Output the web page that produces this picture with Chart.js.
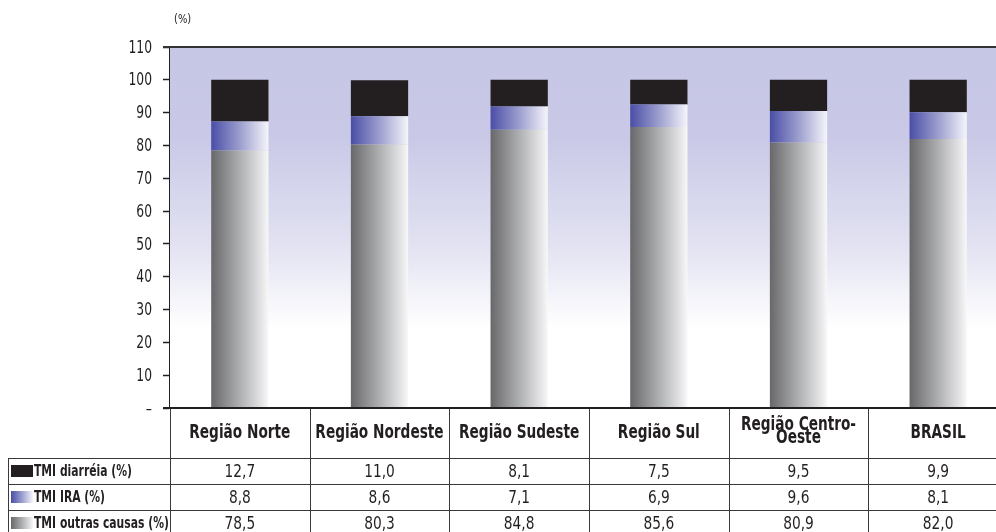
<!DOCTYPE html>
<html>
<head>
<meta charset="utf-8">
<script src="https://cdn.jsdelivr.net/npm/chart.js@4.4.1/dist/chart.umd.min.js"></script>
<style>
	html, body { margin: 0; padding: 0; background: #fff; overflow: hidden; }
	#wrap { width: 1008px; height: 532px; }
</style>
</head>
<body>
<div id="wrap"><canvas id="myChart" width="1008" height="532"></canvas></div>
<script>
// data
const labels = ["Região Norte", "Região Nordeste", "Região Sudeste", "Região Sul", ["Região Centro-", "Oeste"], "BRASIL"]
const diarreia = [12.7, 11.0, 8.1, 7.5, 9.5, 9.9]
const ira = [8.8, 8.6, 7.1, 6.9, 9.6, 8.1]
const outras = [78.5, 80.3, 84.8, 85.6, 80.9, 82.0]
const seriesNames = ["TMI diarréia (%)", "TMI IRA (%)", "TMI outras causas (%)"]
const yMax = 110
const yStep = 10
const unitLabel = "(%)"

const FONT = "'DejaVu Sans Condensed', 'Liberation Sans Narrow', sans-serif"
const INK = "#231f20"
const BAR_PCT = 0.41

const blueStops = [[0, "#4a4ea6"], [0.5, "#9c9ece"], [1, "#f5f5fb"]]
const grayStops = [[0, "#68686b"], [0.55, "#b5b6b8"], [0.9, "#e8e8ea"], [1, "#f8f8f8"]]

function makeGrad(c, x0, x1, stops) {
	const g = c.createLinearGradient(x0, 0, x1, 0)
	stops.forEach(s => g.addColorStop(s[0], s[1]))
	return g
}

function barFill(stops) {
	return ctx => {
		const chart = ctx.chart
		const x = chart.scales.x
		if (!chart.chartArea || !x || ctx.dataIndex === undefined) return stops[0][1]
		const cx = x.getPixelForValue(ctx.dataIndex)
		const half = (x.width / labels.length) * BAR_PCT / 2
		return makeGrad(chart.ctx, cx - half, cx + half, stops)
	}
}

const fmt = v => v.toFixed(1).replace(".", ",")

// narrow text: squeeze horizontally to imitate a condensed face
function narrowText(c, text, x, y, sx) {
	c.save()
	c.translate(x, y)
	c.scale(sx, 1)
	c.fillText(text, 0, 0)
	c.restore()
}

// plot background + table
const decor = {
	id: "decor",
	beforeDatasetsDraw(chart) {
		const { ctx, chartArea: a } = chart
		const g = ctx.createLinearGradient(0, a.top, 0, a.bottom)
		g.addColorStop(0, "#c6c6e5")
		g.addColorStop(0.25, "#c9c9e7")
		g.addColorStop(0.55, "#e2e2f2")
		g.addColorStop(0.78, "#ffffff")
		g.addColorStop(1, "#ffffff")
		ctx.save()
		ctx.fillStyle = g
		ctx.fillRect(a.left, a.top, a.right - a.left, a.bottom - a.top)
		ctx.restore()
	},
	afterDraw(chart) {
		const { ctx, chartArea: a } = chart
		const x = chart.scales.x
		const y = chart.scales.y
		const n = labels.length
		const colW = (x.right - x.left) / n
		const W = chart.width
		const top = a.bottom
		const headH = 50
		const rowH = 26
		ctx.save()

		// top frame line
		ctx.strokeStyle = "#333"
		ctx.lineWidth = 2
		ctx.beginPath()
		ctx.moveTo(a.left - 7, a.top)
		ctx.lineTo(W, a.top)
		ctx.stroke()

		// y tick labels
		ctx.fillStyle = INK
		ctx.textAlign = "right"
		ctx.textBaseline = "middle"
		ctx.font = "18px " + FONT
		y.ticks.forEach(t => {
			const txt = t.value === 0 ? "–" : String(t.value)
			narrowText(ctx, txt, 152, y.getPixelForValue(t.value) + 1, 0.76)
		})

		// table lines
		ctx.strokeStyle = "#3a3a3a"
		ctx.lineWidth = 1
		for (let i = 0; i <= n; i++) {
			const xx = Math.round(x.left + i * colW) + 0.5
			ctx.beginPath()
			ctx.moveTo(xx, top)
			ctx.lineTo(xx, chart.height)
			ctx.stroke()
		}
		for (let r = 0; r < 3; r++) {
			const yy = top + headH + r * rowH + 0.5
			ctx.beginPath()
			ctx.moveTo(8, yy)
			ctx.lineTo(W, yy)
			ctx.stroke()
		}
		ctx.beginPath()
		ctx.moveTo(8.5, top + headH)
		ctx.lineTo(8.5, chart.height)
		ctx.stroke()

		// axis bottom line
		ctx.strokeStyle = INK
		ctx.lineWidth = 2
		ctx.beginPath()
		ctx.moveTo(a.left - 7, top)
		ctx.lineTo(W, top)
		ctx.stroke()

		// header
		ctx.fillStyle = INK
		ctx.textAlign = "center"
		ctx.textBaseline = "middle"
		ctx.font = "bold 19px " + FONT
		labels.forEach((lab, i) => {
			const cx = x.left + (i + 0.5) * colW
			const cy = top + headH / 2
			if (Array.isArray(lab)) {
				narrowText(ctx, lab[0], cx, cy - 8, 0.8)
				narrowText(ctx, lab[1], cx, cy + 5, 0.8)
			} else {
				narrowText(ctx, lab, cx, cy, 0.8)
			}
		})

		// rows
		const rows = [diarreia, ira, outras]
		const swatch = [INK, blueStops, grayStops]
		rows.forEach((vals, r) => {
			const cy = top + headH + r * rowH + rowH / 2
			const s = swatch[r]
			ctx.fillStyle = typeof s === "string" ? s : makeGrad(ctx, 11, 33, s)
			ctx.fillRect(11, Math.round(cy - 6), 22, 12)
			ctx.fillStyle = INK
			ctx.textAlign = "left"
			ctx.font = "bold 15px " + FONT
			narrowText(ctx, seriesNames[r], 34, cy + 1, 0.8)
			ctx.textAlign = "center"
			ctx.font = "18px " + FONT
			vals.forEach((v, i) => {
				narrowText(ctx, fmt(v), x.left + (i + 0.5) * colW, cy + 1, 0.85)
			})
		})

		// unit label
		ctx.textAlign = "left"
		ctx.font = "13px " + FONT
		narrowText(ctx, unitLabel, a.left + 4, 20, 0.85)
		ctx.restore()
	},
}

const chart = document.querySelector("#myChart").getContext("2d")

const myChart = new Chart(chart, {
	type: "bar",
	data: {
		labels: labels,
		datasets: [
			{ label: seriesNames[2], data: outras, backgroundColor: barFill(grayStops) },
			{ label: seriesNames[1], data: ira, backgroundColor: barFill(blueStops) },
			{ label: seriesNames[0], data: diarreia, backgroundColor: INK },
		],
	},
	options: {
		responsive: false,
		animation: false,
		devicePixelRatio: 1,
		layout: { padding: { top: 47, bottom: 124, left: 0, right: 0 } },
		datasets: { bar: { barPercentage: BAR_PCT, categoryPercentage: 1 } },
		plugins: { legend: { display: false }, tooltip: { enabled: false } },
		scales: {
			x: { stacked: true, display: false },
			y: {
				stacked: true,
				min: 0,
				max: yMax,
				afterFit: s => { s.width = 170 },
				border: { display: true, color: INK, width: 2 },
				grid: { drawOnChartArea: false, tickLength: 7, color: INK, tickWidth: 1.5 },
				ticks: { stepSize: yStep, display: false },
			},
		},
	},
	plugins: [decor],
})
</script>
</body>
</html>
